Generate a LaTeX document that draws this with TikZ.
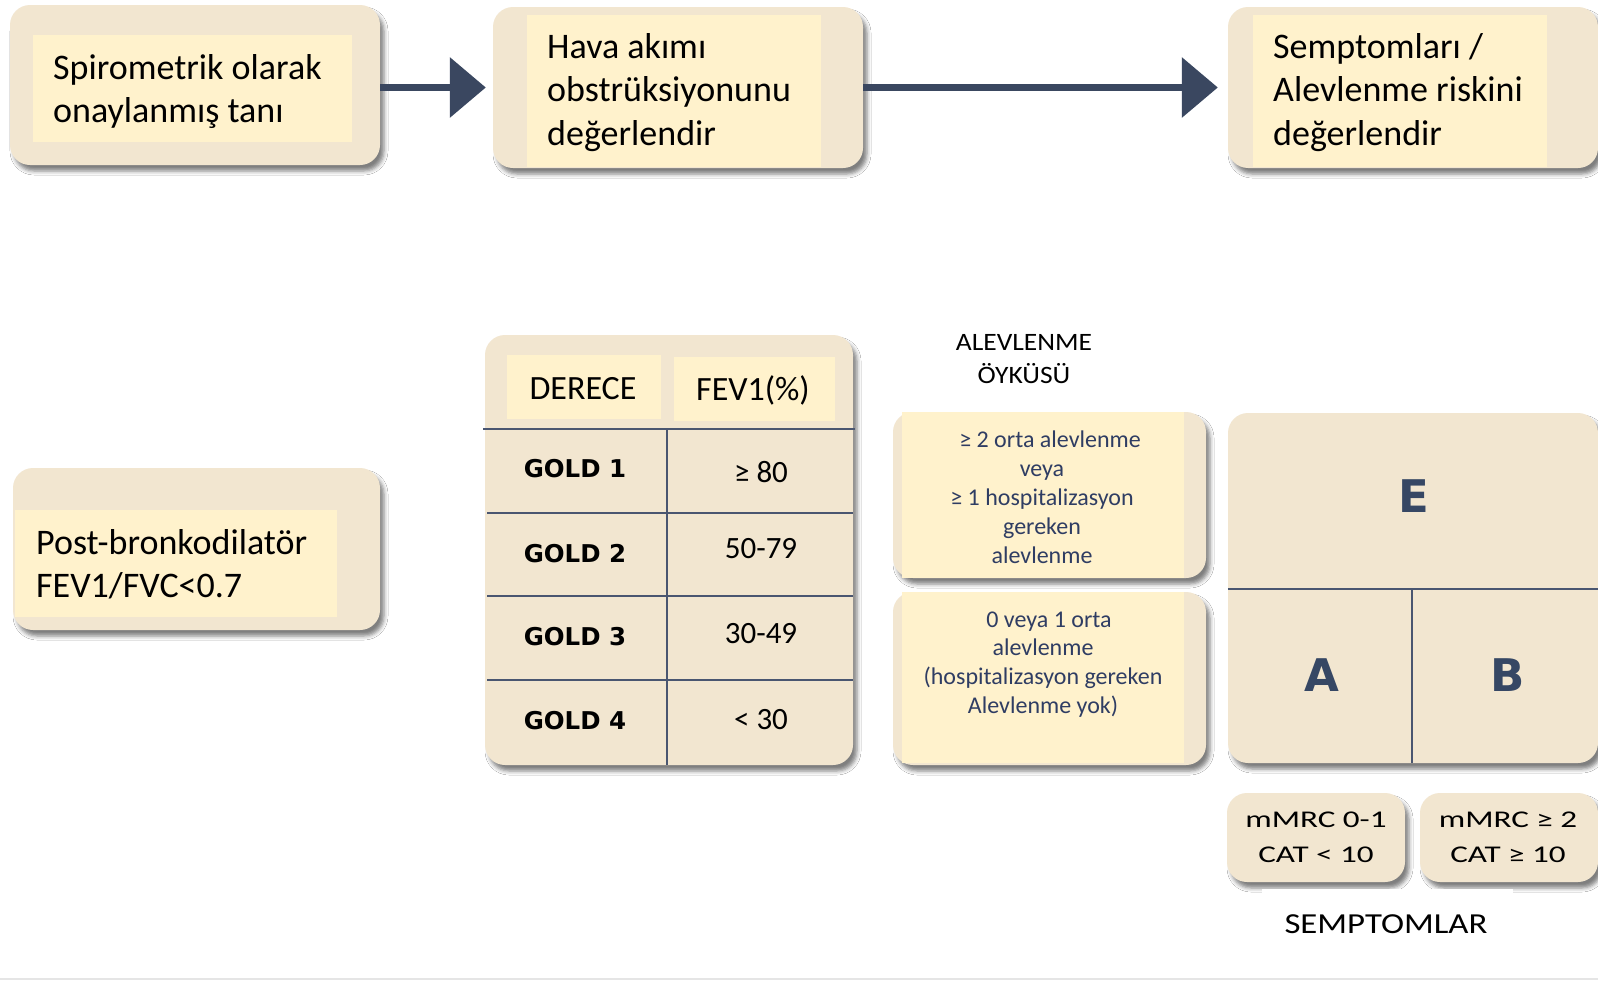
\documentclass[tikz,border=0pt]{standalone}
\usepackage{fontspec}
\setmainfont{Carlito}
\newfontfamily\djv{DejaVu Sans}
\newfontfamily\wideA{Carlito}[FakeStretch=1.38]
\newfontfamily\wideB{Carlito}[FakeStretch=1.2]
\newfontfamily\wideC{Carlito}[FakeStretch=1.1]
\usetikzlibrary{arrows.meta,shadows.blur}
\definecolor{beige}{HTML}{F2E6D0}
\definecolor{cream}{HTML}{FFF2CC}
\definecolor{navy}{HTML}{3A4760}
\definecolor{slate}{HTML}{4A5670}
\definecolor{bluetxt}{HTML}{2F3D63}
\definecolor{letter}{HTML}{364764}
\newcommand{\ml}[2][l]{\begin{tabular}[t]{@{}#1@{}}#2\end{tabular}}
\newcommand{\fsz}[2]{\fontsize{#1}{#2}\selectfont}
\tikzset{
  outerbox/.style={rectangle, rounded corners=20pt, fill=beige, draw=none, inner sep=0pt,
    blur shadow={shadow xshift=4pt, shadow yshift=-6pt, shadow blur radius=4pt, shadow opacity=50}},
  innerbox/.style={rectangle, fill=cream, draw=none, inner sep=0pt},
  txt/.style={inner sep=0pt, anchor=base west, text=black},
  ctxt/.style={inner sep=0pt, anchor=base},
  arr/.style={draw=navy, line width=7pt, -{Triangle[length=36pt,width=59pt]}},
  tline/.style={draw=slate, line width=1.6pt}
}
\begin{document}
\begin{tikzpicture}[x=1pt,y=-1pt]
\useasboundingbox (0,0) rectangle (1598,980);
\fill[white] (0,0) rectangle (1598,980);

% top row
\node[outerbox, minimum width=370pt, minimum height=160pt] (b1) at (195,85) {};
\node[innerbox, minimum width=319pt, minimum height=107pt] (b1i) at (192.5,88.5) {};
\node[txt] (b1t) at (53,79) {\fsz{36}{43}\ml{Spirometrik olarak\\onaylanmış tanı}};

\node[outerbox, minimum width=370pt, minimum height=161pt] (b2) at (678,87.5) {};
\node[innerbox, minimum width=294pt, minimum height=152pt] (b2i) at (674,91) {};
\node[txt] (b2t) at (547,58) {\fsz{36}{43.5}\ml{Hava akımı\\obstrüksiyonunu\\değerlendir}};

\node[outerbox, minimum width=370pt, minimum height=161pt] (b3) at (1413,87.5) {};
\node[innerbox, minimum width=294pt, minimum height=152pt] (b3i) at (1400,91) {};
\node[txt] (b3t) at (1273,58) {\fsz{36}{43.5}\ml{Semptomları /\\Alevlenme riskini\\değerlendir}};

\draw[arr, shorten >=7pt] (b1.east |- b2.west) -- (b2.west);
\draw[arr, shorten >=10pt] (b2.east) -- (b3.west);

% post-bronchodilator
\node[outerbox, minimum width=367pt, minimum height=162pt] (pb) at (196.5,549) {};
\node[innerbox, minimum width=322pt, minimum height=107pt] (pbi) at (176,563.5) {};
\node[txt] (pbt) at (36,554) {\fsz{36}{43}\ml{Post-bronkodilatör\\FEV1/FVC<0.7}};

% table
\node[outerbox, minimum width=368pt, minimum height=430pt] (tb) at (669,550) {};
\node[innerbox, minimum width=154pt, minimum height=64pt] (hd1) at (584,387) {};
\node[innerbox, minimum width=161pt, minimum height=64pt] (hd2) at (754.5,389) {};
\node[ctxt] (hd1t) at (583,399) {\fsz{34}{40}DERECE};
\node[ctxt] (hd2t) at (753,400) {\fsz{34}{40}FEV1(\%)};
\draw[tline] (483,429) -- (855,429);
\draw[tline] (487,513) -- (853,513);
\draw[tline] (487,596) -- (853,596);
\draw[tline] (487,680) -- (853,680);
\draw[tline] (667,429) -- (667,765);
\node[ctxt] (g1) at (575,477) {\djv\bfseries\fsz{24.5}{28}GOLD 1};
\node[ctxt] (g2) at (575,562) {\djv\bfseries\fsz{24.5}{28}GOLD 2};
\node[ctxt] (g3) at (575,645) {\djv\bfseries\fsz{24.5}{28}GOLD 3};
\node[ctxt] (g4) at (575,729) {\djv\bfseries\fsz{24.5}{28}GOLD 4};
\node[ctxt] (v1) at (761,482) {\fsz{31}{36}≥ 80};
\node[ctxt] (v2) at (761,558) {\fsz{31}{36}50-79};
\node[ctxt] (v3) at (761,643) {\fsz{31}{36}30-49};
\node[ctxt] (v4) at (761,729) {\fsz{31}{36}< 30};

% exacerbation history
\node[ctxt] (aoh) at (1024,350) {\wideC\fsz{25}{33}\ml[c]{ALEVLENME\\ÖYKÜSÜ}};
\node[outerbox, minimum width=313pt, minimum height=166pt] (r1) at (1049.5,495) {};
\node[innerbox, minimum width=282pt, minimum height=166pt] (r1i) at (1043,495) {};
\node[ctxt, text=bluetxt] (r1t) at (1042,447) {\fsz{24}{29}\ml[c]{\hspace*{16pt}≥ 2 orta alevlenme\\veya\\≥ 1 hospitalizasyon\\gereken\\alevlenme}};
\node[outerbox, minimum width=313pt, minimum height=173pt] (r2) at (1049.5,678.5) {};
\node[innerbox, minimum width=282pt, minimum height=171pt] (r2i) at (1043,677.5) {};
\node[ctxt, text=bluetxt] (r2t) at (1043,627) {\fsz{24}{28.7}\ml[c]{\hspace*{12pt}0 veya 1 orta\\alevlenme\\(hospitalizasyon gereken\\Alevlenme yok)}};

% ABE grid
\node[outerbox, minimum width=370pt, minimum height=350pt] (abe) at (1413,588) {};
\draw[tline] (abe.west |- 0,589) -- (abe.east |- 0,589);
\draw[tline] (1412,589) -- (1412,763);
\node[ctxt, text=letter] (le) at (1414,512) {\djv\bfseries\fsz{45}{50}E};
\node[ctxt, text=letter] (la) at (1322,691) {\djv\bfseries\fsz{45}{50}A};
\node[ctxt, text=letter] (lb) at (1508,691) {\djv\bfseries\fsz{45}{50}B};

% symptoms
\node[outerbox, minimum width=178pt, minimum height=89pt] (m1) at (1316,837.5) {};
\node[outerbox, minimum width=178pt, minimum height=89pt] (m2) at (1509,837.5) {};
\node[ctxt] (m1t) at (1316,827) {\wideA\fsz{24}{35}\ml[c]{mMRC 0-1\\CAT < 10}};
\node[ctxt] (m2t) at (1508,827) {\wideA\fsz{24}{35}\ml[c]{mMRC ≥ 2\\CAT ≥ 10}};
\fill[white] (1262,889) rectangle (1513,960);
\node[ctxt] (sym) at (1386,933) {\wideB\fsz{29}{34}SEMPTOMLAR};

\draw[draw=black!10, line width=1.5pt] (0,979) -- (1598,979);
\end{tikzpicture}
\end{document}
